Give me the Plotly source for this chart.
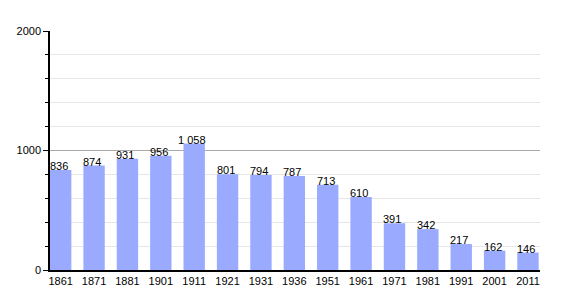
import plotly.graph_objects as go

years = ["1861", "1871", "1881", "1901", "1911", "1921", "1931", "1936",
         "1951", "1961", "1971", "1981", "1991", "2001", "2011"]
population = [836, 874, 931, 956, 1058, 801, 794, 787, 713, 610, 391, 342, 217, 162, 146]
y_ticks = [0, 1000, 2000]

def fmt(v):
    return f"{v:,}".replace(",", "\u00a0")

xs = list(range(len(years)))

fig = go.Figure()
fig.add_trace(go.Bar(
    x=xs, y=population, width=0.64,
    marker=dict(color="#99aaff", line=dict(width=0)),
    hoverinfo="skip",
))

for x, v in zip(xs, population):
    fig.add_annotation(x=x, y=v, text=fmt(v), showarrow=False,
                       yanchor="bottom", xanchor="center", yshift=-4, xshift=-2,
                       font=dict(family="Liberation Sans, Arial", size=11, color="black"))

fig.update_layout(
    width=570, height=300,
    margin=dict(l=50, r=30, t=31, b=30),
    paper_bgcolor="white", plot_bgcolor="white",
    showlegend=False,
    bargap=0.36,
    font=dict(family="Liberation Sans, Arial", size=11, color="black"),
)
fig.update_xaxes(
    range=[-0.32, 14.36],
    tickvals=xs, ticktext=years,
    showgrid=False, showline=True, linecolor="black", linewidth=1.5,
    ticks="", tickfont=dict(size=11), zeroline=False,
)
fig.update_yaxes(
    range=[0, 2000],
    tickvals=y_ticks, ticktext=[str(t) for t in y_ticks],
    showgrid=True, gridcolor="#aaaaaa", gridwidth=1,
    showline=True, linecolor="black", linewidth=1.5,
    ticks="outside", ticklen=5, tickcolor="black",
    minor=dict(dtick=200, showgrid=True, gridcolor="#e6e6e6", gridwidth=1,
               ticks="outside", ticklen=3, tickcolor="black"),
    zeroline=False, tickfont=dict(size=11),
)

fig.write_html("out.html")
